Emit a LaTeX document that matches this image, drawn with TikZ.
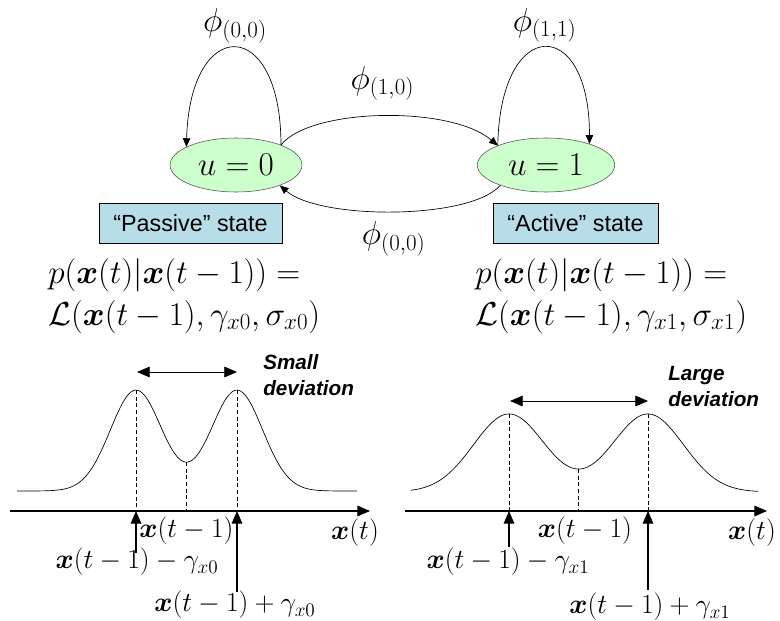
\documentclass[tikz,border=0pt]{standalone}
\usepackage{amsmath}
\usepackage[no-math]{fontspec}
\setmainfont{Liberation Serif}
\setsansfont{Liberation Sans}
\usetikzlibrary{arrows.meta,shapes.geometric}

\definecolor{stategreen}{RGB}{204,255,204}
\definecolor{tagblue}{RGB}{183,222,232}
\newcommand{\bx}{\boldsymbol{x}}

\begin{document}
\begin{tikzpicture}[x=0.75pt, y=-0.75pt,
	state/.style={ellipse, draw=black!70, fill=stategreen, minimum height=40.5pt, inner sep=0pt, font=\fontsize{24}{28}\selectfont},
	tag/.style={draw, fill=tagblue, minimum height=30pt, inner sep=0pt, font=\sffamily\fontsize{17.5}{20}\selectfont},
	formula/.style={anchor=base west, inner sep=0pt, font=\fontsize{23}{28}\selectfont},
	label/.style={inner sep=0pt, font=\fontsize{20}{24}\selectfont},
	note/.style={anchor=west, align=left, inner sep=0pt, font=\sffamily\bfseries\itshape\fontsize{15.5}{19.5}\selectfont},
	trans/.style={-{Triangle[length=6.5pt, width=5.5pt]}, line width=0.5pt, font=\fontsize{24}{28}\selectfont},
	axis/.style={-{Triangle[length=9.5pt, width=8pt]}, line width=0.8pt},
	span/.style={{Triangle[length=9.5pt, width=8pt]}-{Triangle[length=9.5pt, width=8pt]}, line width=0.6pt},
	guide/.style={dashed, dash pattern=on 3pt off 2pt, line width=0.5pt},
	curve/.style={line width=0.5pt}]
	\useasboundingbox (0,0) rectangle (780,620);

	\node at (236,165) [state, minimum width=99pt] (s0) {$u=0$};
	\node at (546,165) [state, minimum width=103pt] (s1) {$u=1$};
	\node at (190.5,223) [tag, minimum width=137pt] (t0) {“Passive” state};
	\node at (575.5,223) [tag, minimum width=124pt] (t1) {“Active” state};

	\node at (48,283) [formula] (p0) {$p(\bx(t)|\bx(t-1))=$};
	\node at (48,325) [formula] (q0) {$\mathcal{L}(\bx(t-1),\gamma_{x0},\sigma_{x0})$};
	\node at (475,283) [formula] (p1) {$p(\bx(t)|\bx(t-1))=$};
	\node at (475,325) [formula] (q1) {$\mathcal{L}(\bx(t-1),\gamma_{x1},\sigma_{x1})$};

	\draw [trans] (s0.24) .. controls (281,15) and (190,15) .. (s0.160) node[midway, above] (f00) {$\phi_{(0,0)}$};
	\draw [trans] (s0.24) .. controls (310,108) and (450,105) .. (s1.158) node[midway, above=8pt] (f10) {$\phi_{(1,0)}$};
	\draw [trans] (s1.204) .. controls (470,220) and (320,220) .. (s0.335) node[midway, below=4pt] (f01) {$\phi_{(0,0)}$};
	\draw [trans] (s1.158) .. controls (500,15) and (590,15) .. (s1.26) node[midway, above] (f11) {$\phi_{(1,1)}$};



	\coordinate (la0) at (10,511);
	\coordinate (la9) at (370,511);
	\coordinate (lk1) at (136,390);
	\coordinate (lk2) at (237,390);
	\coordinate (lkm) at (186.5,462);
	\coordinate (la1) at (136,511);
	\coordinate (la2) at (237,511);
	\coordinate (lam) at (186.5,511);
	\coordinate (lt1) at (136,553);
	\coordinate (lt2) at (237,592);
	\coordinate (ld1) at (137,372);
	\coordinate (ld2) at (237,372);

	\draw [curve] plot[domain=17:357, samples=150, smooth] (\x, {491-100.9*(exp(-0.5*((\x-136)/25.6)^2)+exp(-0.5*((\x-237)/25.6)^2))});
	\draw [axis] (la0) -- (la9);
	\draw [guide] (lk1) -- (la1);
	\draw [guide] (lk2) -- (la2);
	\draw [guide] (lkm) -- (lam);
	\draw [span] (ld1) -- (ld2);
	\draw [axis] (lt1) -- (la1);
	\draw [axis] (lt2) -- (la2);

	\node at (263,375) [note] (n0) {Small\\deviation};
	\node at (355,533) [label] (x0) {$\bx(t)$};
	\node at (186.5,531) [label] (c0) {$\bx(t-1)$};
	\node at (137,562) [label] (m0) {$\bx(t-1)-\gamma_{x0}$};
	\node at (235,605) [label] (g0) {$\bx(t-1)+\gamma_{x0}$};



	\coordinate (ra0) at (405,511);
	\coordinate (ra9) at (767,511);
	\coordinate (rk1) at (509,414);
	\coordinate (rk2) at (648,414);
	\coordinate (rkm) at (578.5,469);
	\coordinate (ra1) at (509,511);
	\coordinate (ra2) at (648,511);
	\coordinate (ram) at (578.5,511);
	\coordinate (rt1) at (509,547);
	\coordinate (rt2) at (648,590);
	\coordinate (rd1) at (510,401);
	\coordinate (rd2) at (648,401);

	\draw [curve] plot[domain=411:758, samples=150, smooth] (\x, {492-78*(exp(-0.5*((\x-509)/35.5)^2)+exp(-0.5*((\x-648)/35.5)^2))});
	\draw [axis] (ra0) -- (ra9);
	\draw [guide] (rk1) -- (ra1);
	\draw [guide] (rk2) -- (ra2);
	\draw [guide] (rkm) -- (ram);
	\draw [span] (rd1) -- (rd2);
	\draw [axis] (rt1) -- (ra1);
	\draw [axis] (rt2) -- (ra2);

	\node at (668,386.5) [note] (n1) {Large\\deviation};
	\node at (752,533) [label] (x1) {$\bx(t)$};
	\node at (585,531) [label] (c1) {$\bx(t-1)$};
	\node at (508,562) [label] (m1) {$\bx(t-1)-\gamma_{x1}$};
	\node at (650,607) [label] (g1) {$\bx(t-1)+\gamma_{x1}$};
\end{tikzpicture}
\end{document}
